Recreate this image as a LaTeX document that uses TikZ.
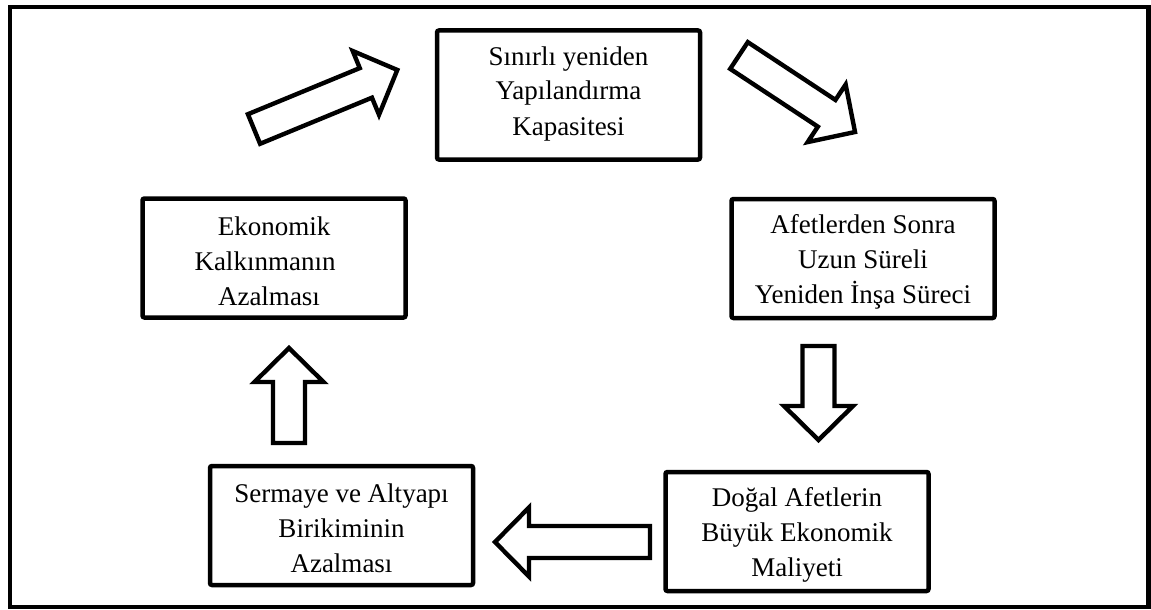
\documentclass[tikz,border=0pt]{standalone}
\usepackage{fontspec}
\setmainfont{Liberation Serif}
\usepackage{tikz}

\begin{document}
\begin{tikzpicture}[x=0.5pt,y=-0.5pt,
		box/.style={draw,line width=2.25pt,rounded corners=1pt,align=center,inner sep=0pt,
			minimum width=131.5pt,minimum height=59.5pt,text depth=0pt,
			font=\fontsize{13.5}{17.5}\selectfont},
		lift/.style={text height=#1pt},
		arrowline/.style={draw,fill=white,line width=2.2pt,line join=miter},
		pics/bigarrow/.style={code={
			\draw[arrowline] (0,-16) -- (#1-34,-16) -- (#1-34,-34.5) -- (#1,0)
				-- (#1-34,34.5) -- (#1-34,16) -- (0,16) -- cycle;
		}}]
		\useasboundingbox (0,0) rectangle (1151,610);
		\draw[line width=2.4pt] (10,7) rectangle (1148.5,607);

		\node[box,lift=40,minimum height=64.5pt] (kapasite) at (568.5,95) {Sınırlı yeniden\\Yapılandırma\\Kapasitesi};
		\node[box,lift=44.5] (insa) at (863,258.5) {Afetlerden Sonra\\Uzun Süreli\\Yeniden İnşa Süreci};
		\node[box,lift=47] (kalkinma) at (274,258) {Ekonomik\\Kalkınmanın\hspace*{9pt}\mbox{}\\Azalması\hspace*{5pt}};
		\node[box,lift=47] (birikim) at (341.5,525.5) {Sermaye ve Altyapı\\Birikiminin\\Azalması};
		\node[box,lift=45] (maliyet) at (797,531.5) {Doğal Afetlerin\\Büyük Ekonomik\\Maliyeti};

		% block arrows
		\pic[rotate=22.4] at (254,129) {bigarrow=155};
		\pic[rotate=-33.4] at (739,55.5) {bigarrow=139};
		\pic[rotate=-90] at (818.5,346) {bigarrow=94};
		\pic[rotate=180] at (650,542) {bigarrow=155};
		\pic[rotate=90] at (289,443) {bigarrow=95};
	\end{tikzpicture}
\end{document}
